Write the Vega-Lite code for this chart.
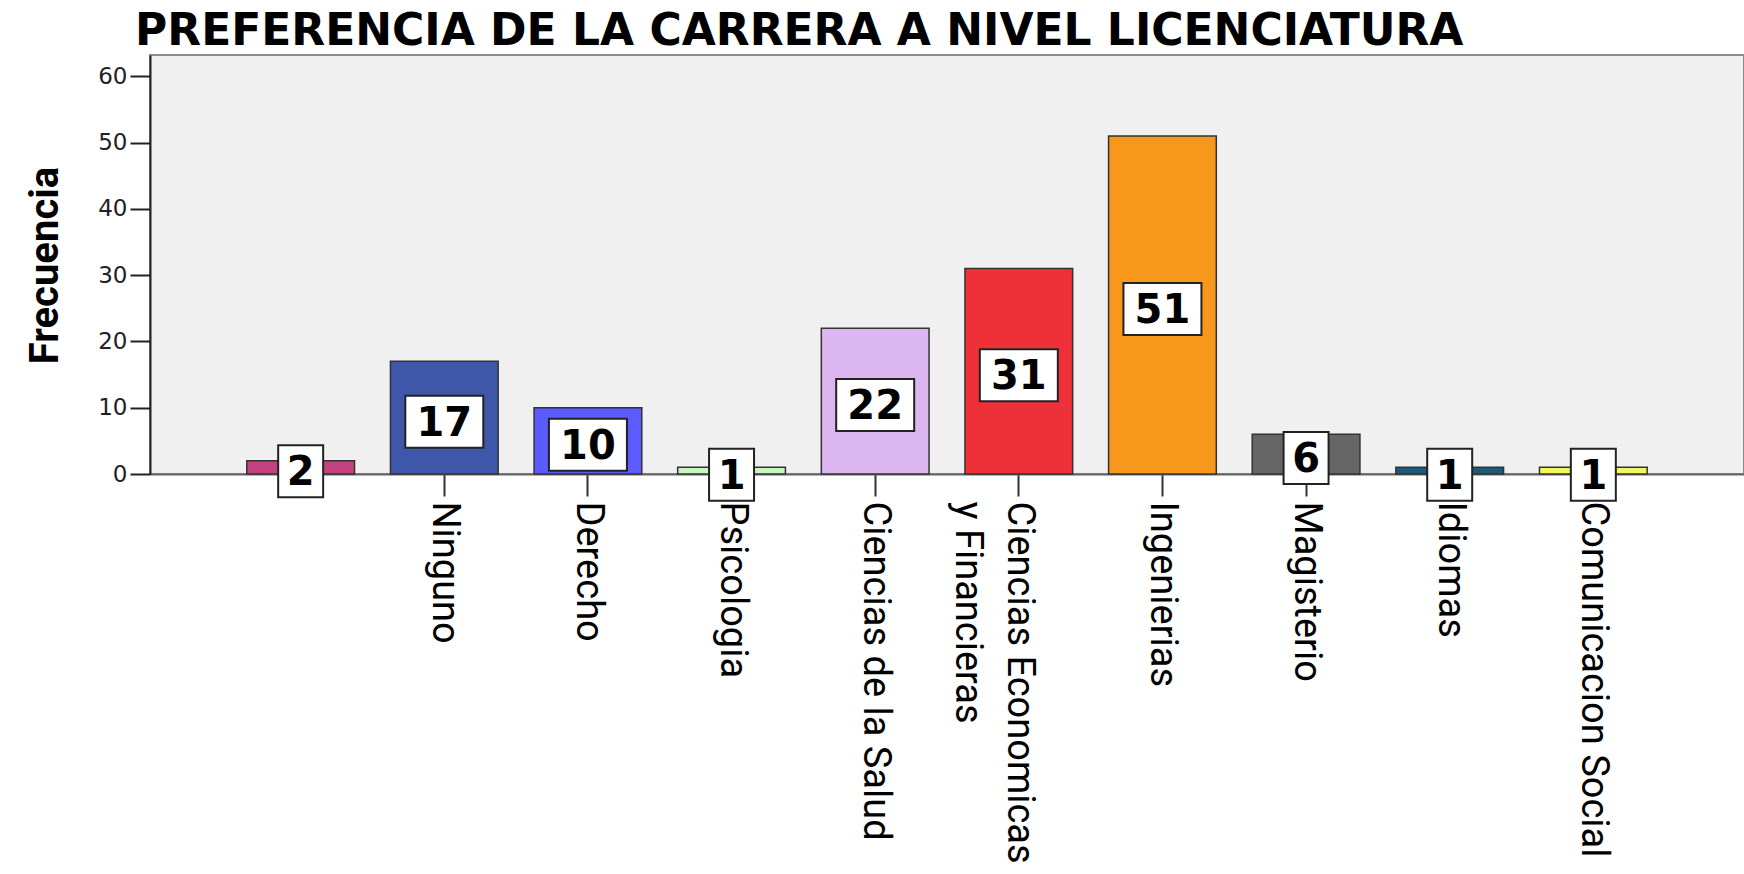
{
  "$schema": "https://vega.github.io/schema/vega-lite/v6.json",
  "autosize": {"type": "none"},
  "padding": {"left": 150, "top": 55, "right": 0, "bottom": 400},
  "width": 1594,
  "height": 419,
  "background": "white",
  "config": {
    "view": {"fill": "#f0f0f0", "stroke": "#8a8a8a", "strokeWidth": 2},
    "axisY": {
      "domainColor": "#222", "domainWidth": 2, "tickColor": "#222", "tickWidth": 2, "tickSize": 20,
      "labelFont": "DejaVu Sans", "labelFontSize": 23, "labelColor": "#222", "labelPadding": 3,
      "grid": false,
      "titleFont": "Roboto", "titleFontWeight": "bold", "titleFontSize": 40, "titleColor": "#000",
      "titleX": -93, "titleY": 210, "titleAngle": -90, "titleAlign": "center", "titleBaseline": "alphabetic"
    },
    "axisX": {
      "domainColor": "#666", "domainWidth": 2, "tickColor": "#333", "tickWidth": 2, "tickSize": 22,
      "labelAngle": 90, "labelAlign": "left", "labelBaseline": "middle",
      "labelFont": "Roboto", "labelFontSize": 38, "labelColor": "#000",
      "labelPadding": 5, "labelLimit": 0, "labelLineHeight": 52, "labelOverlap": false, "grid": false
    }
  },
  "title": {
    "text": "PREFERENCIA DE LA CARRERA A NIVEL LICENCIATURA",
    "anchor": "start", "frame": "group", "dx": -15, "offset": -34, "baseline": "alphabetic",
    "font": "DejaVu Sans", "fontWeight": "bold", "fontSize": 44, "color": "#000"
  },
  "data": {
    "values": [
      {"carrera": " ", "n": 2},
      {"carrera": "Ninguno", "n": 17},
      {"carrera": "Derecho", "n": 10},
      {"carrera": "Psicologia", "n": 1},
      {"carrera": "Ciencias de la Salud", "n": 22},
      {"carrera": "Ciencias Economicas y Financieras", "n": 31},
      {"carrera": "Ingenierias", "n": 51},
      {"carrera": "Magisterio", "n": 6},
      {"carrera": "Idiomas", "n": 1},
      {"carrera": "Comunicacion Social", "n": 1}
    ]
  },
  "transform": [{"calculate": "datum.n / 2", "as": "mid"}],
  "encoding": {
    "x": {
      "field": "carrera", "type": "nominal", "sort": null, "title": null,
      "scale": {"paddingInner": 0.25, "paddingOuter": 0.674},
      "axis": {"labelExpr": "datum.value == 'Ciencias Economicas y Financieras' ? ['Ciencias Economicas', 'y Financieras'] : datum.value"}
    }
  },
  "layer": [
    {
      "mark": {"type": "bar", "stroke": "#333", "strokeWidth": 1.5},
      "encoding": {
        "y": {"field": "n", "type": "quantitative", "title": "Frecuencia",
              "scale": {"domain": [0, 63.2], "nice": false, "zero": true},
              "axis": {"values": [0, 10, 20, 30, 40, 50, 60]}},
        "color": {
          "field": "carrera", "type": "nominal", "legend": null,
          "scale": {
            "domain": [" ", "Ninguno", "Derecho", "Psicologia", "Ciencias de la Salud", "Ciencias Economicas y Financieras", "Ingenierias", "Magisterio", "Idiomas", "Comunicacion Social"],
            "range": ["#c4427f", "#3f57a8", "#5b5bff", "#c8f5c0", "#dcb6f0", "#ee3138", "#f7981d", "#666666", "#1c5a78", "#f5f560"]
          }
        }
      }
    },
    {
      "transform": [{"filter": "datum.n >= 10"}],
      "mark": {"type": "point", "shape": "M-1,-0.667H1V0.667H-1Z", "size": 6084, "filled": true, "fill": "white", "stroke": "#222", "strokeWidth": 2, "opacity": 1, "yOffset": 4},
      "encoding": {
        "y": {"field": "mid", "type": "quantitative", "title": "Frecuencia", "scale": {"domain": [0, 63.2], "nice": false, "zero": true}}
      }
    },
    {
      "transform": [{"filter": "datum.n < 10"}],
      "mark": {"type": "point", "shape": "M-0.865,-1H0.865V1H-0.865Z", "size": 2704, "filled": true, "fill": "white", "stroke": "#222", "strokeWidth": 2, "opacity": 1, "yOffset": 4},
      "encoding": {
        "y": {"field": "mid", "type": "quantitative", "title": "Frecuencia", "scale": {"domain": [0, 63.2], "nice": false, "zero": true}}
      }
    },
    {
      "mark": {"type": "text", "font": "DejaVu Sans", "fontWeight": "bold", "fontSize": 40, "color": "#000", "align": "center", "baseline": "middle", "dy": 6},
      "encoding": {
        "y": {"field": "mid", "type": "quantitative", "title": "Frecuencia", "scale": {"domain": [0, 63.2], "nice": false, "zero": true}},
        "text": {"field": "n", "type": "quantitative"}
      }
    }
  ]
}
